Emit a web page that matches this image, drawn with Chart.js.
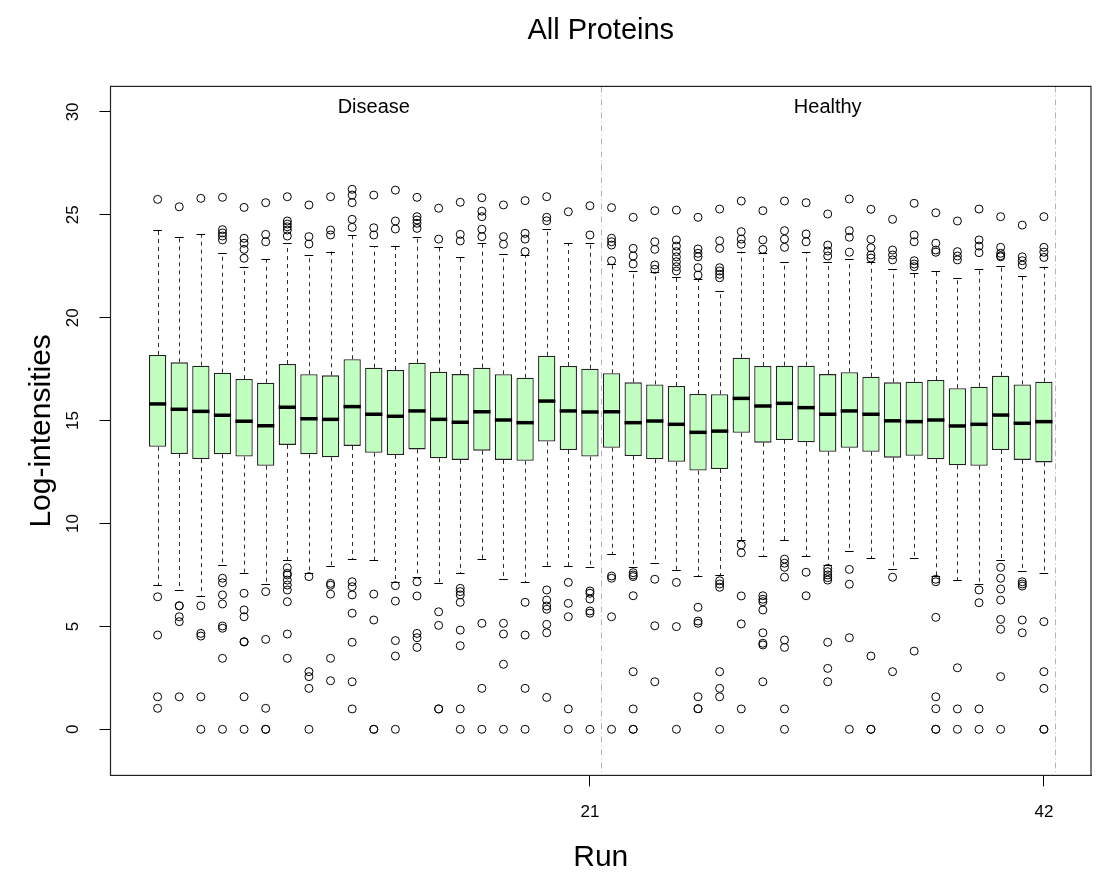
<!DOCTYPE html>
<html>
<head>
<meta charset="utf-8">
<title>All Proteins</title>
<script src="https://cdn.jsdelivr.net/npm/chart.js@4.4.1/dist/chart.umd.min.js"></script>
<style>
  html, body { margin: 0; padding: 0; background: #fff; }
  canvas { display: block; }
</style>
</head>
<body>
<canvas id="chart" width="1107" height="873"></canvas>
<script>
// runs (categories) and group labels
const runs = [1, 2, 3, 4, 5, 6, 7, 8, 9, 10, 11, 12, 13, 14, 15, 16, 17, 18, 19, 20, 21,
              22, 23, 24, 25, 26, 27, 28, 29, 30, 31, 32, 33, 34, 35, 36, 37, 38, 39, 40, 41, 42];
const groups = ['Disease', 'Healthy'];
const groupCenters = [11, 32];
const groupBounds = [21.5, 42.5];

// box statistics per run (log-intensities)
const q1 = [13.73, 13.38, 13.13, 13.36, 13.25, 12.81, 13.82, 13.36, 13.22, 13.77, 13.44, 13.33, 13.60, 13.17,
            13.09, 13.54, 13.09, 13.05, 13.98, 13.57, 13.25, 13.68, 13.28, 13.12, 13.00, 12.57, 12.65, 14.41,
            13.93, 14.06, 13.95, 13.49, 13.68, 13.49, 13.20, 13.29, 13.12, 12.83, 12.81, 13.57, 13.09, 12.97];
const median = [15.81, 15.55, 15.45, 15.26, 14.97, 14.75, 15.65, 15.09, 15.06, 15.68, 15.31, 15.21, 15.47, 15.06,
                14.92, 15.43, 15.03, 14.90, 15.95, 15.47, 15.42, 15.43, 14.90, 14.98, 14.82, 14.43, 14.49, 16.08,
                15.71, 15.84, 15.63, 15.31, 15.47, 15.31, 14.99, 14.95, 15.03, 14.74, 14.82, 15.27, 14.87, 14.95];
const q3 = [18.19, 17.83, 17.67, 17.33, 17.02, 16.84, 17.75, 17.25, 17.20, 17.98, 17.57, 17.46, 17.81, 17.38,
            17.26, 17.57, 17.25, 17.08, 18.15, 17.65, 17.52, 17.30, 16.86, 16.76, 16.68, 16.29, 16.28, 18.06,
            17.65, 17.67, 17.67, 17.26, 17.35, 17.13, 16.86, 16.89, 16.97, 16.57, 16.65, 17.18, 16.76, 16.89];
const whiskerLow = [7.01, 6.75, 6.48, 7.98, 7.58, 7.05, 8.23, 7.58, 7.93, 8.26, 8.23, 7.17, 7.39, 7.09,
                    7.58, 8.26, 7.29, 7.14, 7.93, 7.93, 7.89, 8.50, 7.90, 8.07, 7.74, 7.45, 7.50, 9.20,
                    8.44, 9.20, 8.42, 7.98, 8.66, 8.31, 7.77, 8.31, 7.45, 7.25, 7.06, 8.23, 7.69, 7.58];
const whiskerHigh = [24.26, 23.90, 24.07, 23.13, 22.48, 22.84, 23.62, 23.05, 23.21, 24.02, 23.48, 23.48, 23.94, 23.42,
                     22.93, 23.62, 23.08, 23.05, 24.30, 23.62, 23.62, 22.59, 22.27, 22.24, 21.96, 21.87, 21.31, 23.21,
                     23.16, 22.69, 23.18, 22.72, 22.85, 22.69, 22.35, 22.19, 22.27, 21.94, 22.37, 22.53, 22.03, 22.48];
const outliers = [
  [25.75, 6.44, 4.58, 1.58, 1.02],
  [25.39, 6.0, 6.0, 5.47, 5.23, 1.58],
  [25.8, 6.0, 4.66, 4.53, 1.58, 0],
  [25.85, 24.28, 24.12, 23.97, 23.78, 7.34, 7.12, 6.53, 6.09, 5.02, 4.91, 3.45, 0],
  [25.36, 23.86, 23.62, 23.32, 22.89, 6.61, 5.8, 5.47, 4.26, 4.24, 1.58, 0],
  [25.59, 24.05, 23.69, 6.69, 4.37, 1.02, 0, 0],
  [25.88, 24.7, 24.55, 24.42, 24.26, 23.97, 7.85, 7.58, 7.5, 7.25, 7.01, 6.77, 6.2, 4.63, 3.45],
  [25.48, 23.94, 23.58, 7.42, 2.8, 2.56, 1.99, 0],
  [25.88, 24.26, 24.02, 7.09, 7.0, 6.57, 3.45, 2.36],
  [26.24, 25.96, 25.59, 24.78, 24.39, 7.17, 6.93, 6.53, 5.64, 4.23, 2.31, 0.99],
  [25.96, 24.37, 24.02, 6.57, 5.31, 0, 0],
  [26.2, 24.7, 24.31, 6.98, 6.23, 4.31, 3.56, 0],
  [25.85, 24.91, 24.75, 24.59, 24.34, 7.17, 6.48, 4.66, 4.45, 3.98],
  [25.32, 23.82, 5.71, 5.05, 0.99, 0.99],
  [25.61, 24.05, 23.73, 6.85, 6.69, 6.53, 6.17, 4.82, 4.06, 0.99, 0],
  [25.83, 25.18, 24.91, 24.3, 23.94, 5.15, 1.99, 0],
  [25.48, 23.94, 23.57, 5.15, 4.63, 3.16, 0],
  [25.69, 24.1, 23.82, 23.21, 6.17, 4.58, 1.99, 0],
  [25.88, 24.88, 24.71, 6.77, 6.28, 5.99, 5.83, 5.1, 4.69, 1.55],
  [25.15, 7.14, 6.12, 5.47, 0.99, 0],
  [25.44, 24.02, 6.72, 6.61, 6.33, 5.75, 5.64, 0],
  [25.35, 23.86, 23.69, 23.53, 22.77, 7.45, 7.34, 5.47, 0],
  [24.88, 23.37, 23.0, 22.61, 7.61, 7.5, 7.42, 6.49, 2.8, 0.99, 0, 0],
  [25.2, 23.69, 23.32, 22.56, 22.35, 7.29, 5.03, 2.31],
  [25.23, 23.78, 23.48, 23.21, 22.96, 22.72, 22.48, 22.27, 7.14, 4.99, 0],
  [24.88, 23.34, 23.13, 22.96, 22.43, 22.07, 5.93, 5.26, 5.15, 1.58, 1.0, 1.0],
  [25.28, 23.74, 23.37, 22.43, 22.27, 22.11, 21.94, 7.22, 7.06, 6.9, 2.8, 1.99, 1.58, 0],
  [25.67, 24.18, 23.82, 23.57, 8.96, 8.58, 6.48, 5.12, 0.99],
  [25.2, 23.78, 23.32, 6.49, 6.32, 6.2, 5.8, 4.69, 4.18, 4.1, 2.31],
  [25.67, 24.23, 23.82, 23.42, 8.27, 8.07, 7.87, 7.39, 4.34, 3.98, 0.99, 0],
  [25.59, 24.07, 23.69, 7.63, 6.49],
  [25.04, 23.53, 23.24, 23.0, 7.82, 7.66, 7.5, 7.37, 7.25, 4.23, 2.96, 2.31],
  [25.77, 24.23, 23.91, 23.18, 7.77, 7.05, 4.45, 0],
  [25.27, 23.81, 23.4, 23.05, 22.9, 3.56, 0, 0],
  [24.78, 23.29, 23.05, 22.81, 7.39, 2.8],
  [25.56, 24.02, 23.69, 22.77, 22.61, 22.48, 3.8],
  [25.1, 23.62, 23.29, 23.18, 7.29, 7.17, 5.44, 1.58, 1.0, 0, 0],
  [24.7, 23.21, 23.0, 22.81, 2.99, 0.99, 0],
  [25.28, 23.78, 23.48, 23.16, 6.77, 6.15, 0.99, 0],
  [24.91, 23.42, 23.13, 23.01, 22.96, 7.87, 7.34, 6.82, 6.28, 5.34, 4.86, 2.56, 0],
  [24.5, 22.96, 22.77, 22.56, 7.17, 7.06, 6.96, 5.31, 4.69],
  [24.91, 23.42, 23.18, 22.93, 5.23, 2.8, 1.99, 0, 0]
];

// axis ticks
const xTicks = [21, 42];
const yTicks = [0, 5, 10, 15, 20, 25, 30];
const groupLabelY = 30.2;

const FONT = "'Liberation Sans', Arial, Helvetica, sans-serif";
Chart.defaults.font.family = FONT;
Chart.defaults.color = '#000';

const boxes = runs.map((r, i) => ({ x: r, y: [q1[i], q3[i]] }));
const outlierPoints = [];
runs.forEach((r, i) => {
    outliers[i].forEach((v) => outlierPoints.push({ x: r, y: v }));
});

// whiskers, caps, medians, group separators and the plot frame
const boxExtras = {
    id: 'boxExtras',
    beforeDatasetsDraw(chart) {
        const { ctx, scales: { x, y } } = chart;
        const boxW = (x.getPixelForValue(2) - x.getPixelForValue(1)) * 0.8;
        ctx.save();
        ctx.strokeStyle = '#2a2a2a';
        ctx.lineWidth = 1;
        ctx.setLineDash([4, 4]);
        runs.forEach((r, i) => {
            const px = Math.round(x.getPixelForValue(r)) + 0.5;
            ctx.beginPath();
            ctx.moveTo(px, y.getPixelForValue(q3[i]));
            ctx.lineTo(px, y.getPixelForValue(whiskerHigh[i]));
            ctx.moveTo(px, y.getPixelForValue(q1[i]));
            ctx.lineTo(px, y.getPixelForValue(whiskerLow[i]));
            ctx.stroke();
        });
        ctx.setLineDash([]);
        ctx.strokeStyle = '#000';
        runs.forEach((r, i) => {
            const px = x.getPixelForValue(r);
            [whiskerHigh[i], whiskerLow[i]].forEach((v) => {
                const py = Math.round(y.getPixelForValue(v)) + 0.5;
                ctx.beginPath();
                ctx.moveTo(px - boxW / 4, py);
                ctx.lineTo(px + boxW / 4, py);
                ctx.stroke();
            });
        });
        ctx.restore();
    },
    afterDatasetsDraw(chart) {
        const { ctx, chartArea, scales: { x, y } } = chart;
        const boxW = (x.getPixelForValue(2) - x.getPixelForValue(1)) * 0.8;
        ctx.save();
        ctx.strokeStyle = '#000';
        ctx.lineWidth = 3.5;
        runs.forEach((r, i) => {
            const px = x.getPixelForValue(r);
            const py = y.getPixelForValue(median[i]);
            ctx.beginPath();
            ctx.moveTo(px - boxW / 2, py);
            ctx.lineTo(px + boxW / 2, py);
            ctx.stroke();
        });

        ctx.strokeStyle = '#b4b4b4';
        ctx.lineWidth = 1;
        ctx.setLineDash([6, 3, 1, 3]);
        groupBounds.forEach((b) => {
            const px = Math.round(x.getPixelForValue(b)) + 0.5;
            ctx.beginPath();
            ctx.moveTo(px, chartArea.top);
            ctx.lineTo(px, chartArea.bottom);
            ctx.stroke();
        });
        ctx.setLineDash([]);

        ctx.fillStyle = '#000';
        ctx.font = '20px ' + FONT;
        ctx.textAlign = 'center';
        ctx.textBaseline = 'middle';
        groups.forEach((g, i) => {
            ctx.fillText(g, x.getPixelForValue(groupCenters[i]), y.getPixelForValue(groupLabelY));
        });

        ctx.strokeStyle = '#222';
        ctx.lineWidth = 1.2;
        ctx.strokeRect(chartArea.left, chartArea.top, chartArea.right - chartArea.left, chartArea.bottom - chartArea.top);
        ctx.restore();
    }
};

const ctx = document.getElementById('chart').getContext('2d');
const chart = new Chart(ctx, {
    type: 'bar',
    data: {
        datasets: [
            {
                type: 'bar',
                data: boxes,
                backgroundColor: '#c1ffc1',
                borderColor: '#222',
                borderWidth: 1.3,
                borderSkipped: false,
                barPercentage: 0.8,
                categoryPercentage: 1,
                order: 2
            },
            {
                type: 'scatter',
                data: outlierPoints,
                pointStyle: 'circle',
                pointRadius: 4,
                pointBorderWidth: 1,
                pointBackgroundColor: 'rgba(0,0,0,0)',
                pointBorderColor: '#000',
                showLine: false,
                order: 1
            }
        ]
    },
    options: {
        responsive: false,
        animation: false,
        layout: { padding: { left: 0, right: 16, top: 0, bottom: 0 } },
        plugins: {
            legend: { display: false },
            tooltip: { enabled: false },
            title: {
                display: true,
                text: 'All Proteins',
                fullSize: false,
                color: '#000',
                font: { size: 29, weight: 'normal', lineHeight: 1.2 },
                padding: { top: 14, bottom: 37.6 }
            }
        },
        scales: {
            x: {
                type: 'linear',
                min: -1.18,
                max: 44.18,
                offset: false,
                afterBuildTicks: (s) => { s.ticks = xTicks.map((v) => ({ value: v })); },
                afterFit: (s) => { s.height = 97.6; },
                grid: { display: true, drawOnChartArea: false, drawTicks: true, tickLength: 11, color: '#000', offset: false },
                border: { display: true, color: '#222' },
                ticks: { font: { size: 17 }, padding: 16, color: '#000', autoSkip: false, maxRotation: 0, callback: (v) => String(v) },
                title: { display: true, text: 'Run', color: '#000', font: { size: 30, lineHeight: 1 }, padding: { top: 0, bottom: 0 } }
            },
            y: {
                type: 'linear',
                min: -2.24,
                max: 31.24,
                afterBuildTicks: (s) => { s.ticks = yTicks.map((v) => ({ value: v })); },
                afterFit: (s) => { s.width = 110.5; },
                grid: { display: true, drawOnChartArea: false, drawTicks: true, tickLength: 11, color: '#000' },
                border: { display: true, color: '#222' },
                ticks: { font: { size: 17 }, padding: 17, color: '#000', minRotation: 90, maxRotation: 90, crossAlign: 'center', callback: (v) => String(v) },
                title: { display: true, text: 'Log-intensities', color: '#000', font: { size: 30, lineHeight: 1 }, padding: { top: 27, bottom: 0 } }
            }
        }
    },
    plugins: [boxExtras]
});
</script>
</body>
</html>
